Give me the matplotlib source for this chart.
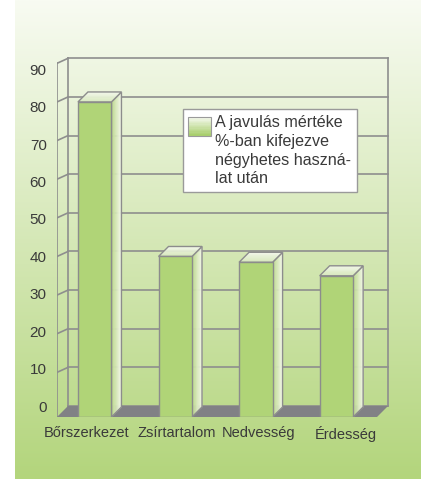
import numpy as np
import matplotlib
matplotlib.use("Agg")
import matplotlib.pyplot as plt
import matplotlib.transforms as mtransforms
from matplotlib.patches import Polygon, Rectangle, Patch
from matplotlib.legend_handler import HandlerBase
from matplotlib.colors import to_rgb

# data
categories = ["Bőrszerkezet", "Zsírtartalom", "Nedvesség", "Érdesség"]
values = [80, 40, 38.5, 35]
yticks = [0, 10, 20, 30, 40, 50, 60, 70, 80, 90]
legend_label = "A javulás mértéke\n%-ban kifejezve\nnégyhetes haszná-\nlat után"

# layout in pixels (figure is 425x479 at dpi 100)
W, H, DPI = 425, 479, 100
PX_X = 80.56      # px per category step
PX_Y = 3.863      # px per value unit
X0_PX = 94.7      # x of first category
Y0_PX = 411       # y (from top) of value 0 on the front plane

FONT = "Liberation Sans"
TXT = "#3a3a3a"
GRID = "#8e8e8e"
EDGE = "#8c8c8c"


def mix(c1, c2, t):
    a, b = np.array(to_rgb(c1)), np.array(to_rgb(c2))
    return tuple(a + (b - a) * t)


class GradientHandler(HandlerBase):
    # legend swatch: white on top fading to green, aligned with first text line
    def __init__(self, shift):
        super().__init__()
        self.shift = shift

    def create_artists(self, legend, orig_handle, xdescent, ydescent,
                       width, height, fontsize, trans):
        arts = []
        n = 14
        y0 = -ydescent + self.shift
        for k in range(n):
            c = mix("#f6f9ef", "#a9cf6e", k / (n - 1))
            arts.append(Rectangle((-xdescent, y0 + height * (1 - (k + 1) / n)),
                                  width, height / n + 0.2, facecolor=c,
                                  edgecolor="none", transform=trans))
        arts.append(Rectangle((-xdescent, y0), width, height, facecolor="none",
                              edgecolor="#9a9a9a", lw=0.8, transform=trans))
        return arts


fig = plt.figure(figsize=(W / DPI, H / DPI), dpi=DPI)

# background panel with vertical gradient
bg = fig.add_axes([0, 0, 1, 1])
grad = np.linspace(0, 1, 256)[:, None, None]
top_c, bot_c = np.array(to_rgb("#f8fbf2")), np.array(to_rgb("#b3d57c"))
bg.imshow(top_c + (bot_c - top_c) * grad, extent=[15, 421, 479, 0], aspect="auto")
bg.set_xlim(0, W)
bg.set_ylim(H, 0)
bg.axis("off")

# main axes: front plane of the pseudo-3D chart
ax = fig.add_axes([57 / W, 1 - 417 / H, (400 - 57) / W, (417 - 50) / H])
ax.set_facecolor("none")
xlim = ((57 - X0_PX) / PX_X, (400 - X0_PX) / PX_X)
ylim = ((Y0_PX - 417) / PX_Y, (Y0_PX - 50) / PX_Y)

XL = xlim[0]
XR = (377 - X0_PX) / PX_X
FLOOR = ylim[0]
BX, BY = 11 / PX_X, 5 / PX_Y      # back wall offset
DX, DY = 10 / PX_X, 10 / PX_Y     # bar depth offset
bw = 33.5 / PX_X
top_v = yticks[-1]

# back wall grid
for v in yticks:
    ax.plot([XL + BX, XR + BX], [v + BY, v + BY], color=GRID, lw=1.2, zorder=1)
for xx in (XL + BX, XR + BX):
    ax.plot([xx, xx], [BY, top_v + BY], color=GRID, lw=1.2, zorder=1)

# left wall
ax.plot([XL, XL], [FLOOR, top_v], color=GRID, lw=1.2, zorder=1)
for v in yticks[1:]:
    ax.plot([XL, XL + BX], [v, v + BY], color=GRID, lw=1.2, zorder=1)

# floor
ax.add_patch(Polygon([(XL, FLOOR), (XR, FLOOR), (XR + BX, BY), (XL + BX, BY)],
                     closed=True, facecolor="#818185", edgecolor="none", zorder=2))

# bars
xs = np.arange(len(categories))
heights = np.array(values) - FLOOR
ax.bar(xs, heights, bottom=FLOOR, width=bw, color="#b0d477",
       edgecolor=EDGE, lw=1.0, zorder=4)

n = 12
for x, v in zip(xs, values):
    xl, xr = x - bw / 2, x + bw / 2
    # side face
    for k in range(n):
        t0, t1 = k / n, (k + 1) / n
        c = mix("#b9d889", "#f5f9ec", (k + 0.5) / n)
        ax.add_patch(Polygon([(xr + DX * t0, FLOOR + DY * t0), (xr + DX * t1, FLOOR + DY * t1),
                              (xr + DX * t1, v + DY * t1), (xr + DX * t0, v + DY * t0)],
                             closed=True, facecolor=c, edgecolor=c, lw=0.3, zorder=3))
    ax.add_patch(Polygon([(xr, FLOOR), (xr + DX, FLOOR + DY), (xr + DX, v + DY), (xr, v)],
                         closed=True, facecolor="none", edgecolor=EDGE, lw=1.0, zorder=3))
    # top face
    for k in range(n):
        t0, t1 = k / n, (k + 1) / n
        c = mix("#d6e8bb", "#f4f8ec", (k + 0.5) / n)
        ax.add_patch(Polygon([(xl + DX * t0, v + DY * t0), (xr + DX * t0, v + DY * t0),
                              (xr + DX * t1, v + DY * t1), (xl + DX * t1, v + DY * t1)],
                             closed=True, facecolor=c, edgecolor=c, lw=0.3, zorder=3))
    ax.add_patch(Polygon([(xl, v), (xr, v), (xr + DX, v + DY), (xl + DX, v + DY)],
                         closed=True, facecolor="none", edgecolor=EDGE, lw=1.0, zorder=3))

ax.set_xlim(*xlim)
ax.set_ylim(*ylim)
for s in ax.spines.values():
    s.set_visible(False)

ax.set_yticks(yticks)
ax.set_yticklabels([str(v) for v in yticks], fontsize=11, color=TXT, family=FONT)
ax.tick_params(axis="y", length=0, pad=7.4)
# the printed axis labels drift slightly against the perspective grid
for lbl, v in zip(ax.get_yticklabels(), yticks):
    dy = -(-5 + 11 * v / top_v)
    lbl.set_transform(lbl.get_transform() +
                      mtransforms.ScaledTranslation(0, dy / DPI, fig.dpi_scale_trans))
ax.set_xticks(xs)
ax.set_xticklabels(categories, fontsize=10.5, color=TXT, family=FONT)
ax.tick_params(axis="x", length=0, pad=6.5)
for lbl, off in zip(ax.get_xticklabels(), [-8, 1, 3, 9]):
    lbl.set_transform(lbl.get_transform() +
                      mtransforms.ScaledTranslation(off / DPI, 0, fig.dpi_scale_trans))

# legend
fs = 11.6
ls = 1.32
nlines = legend_label.count("\n") + 1
hh = 1.4
shift = ((nlines - 1) * ls * 0.86 * fs + fs * 1.1 - hh * fs) / 2
leg = fig.legend(handles=[Patch()], labels=[legend_label], loc="upper left",
                 bbox_to_anchor=(182.7 / W, 1 - 109.3 / H), bbox_transform=fig.transFigure,
                 borderaxespad=0, frameon=True, fancybox=False, edgecolor="#9a9a9a",
                 framealpha=1, borderpad=0.35, handlelength=hh, handleheight=hh,
                 handletextpad=0.25, prop={"family": FONT, "size": fs},
                 handler_map={Patch: GradientHandler(shift)})
leg.get_frame().set_linewidth(1.0)
for t in leg.get_texts():
    t.set_linespacing(ls)
    t.set_color(TXT)

fig.savefig("out.png", dpi=DPI)
